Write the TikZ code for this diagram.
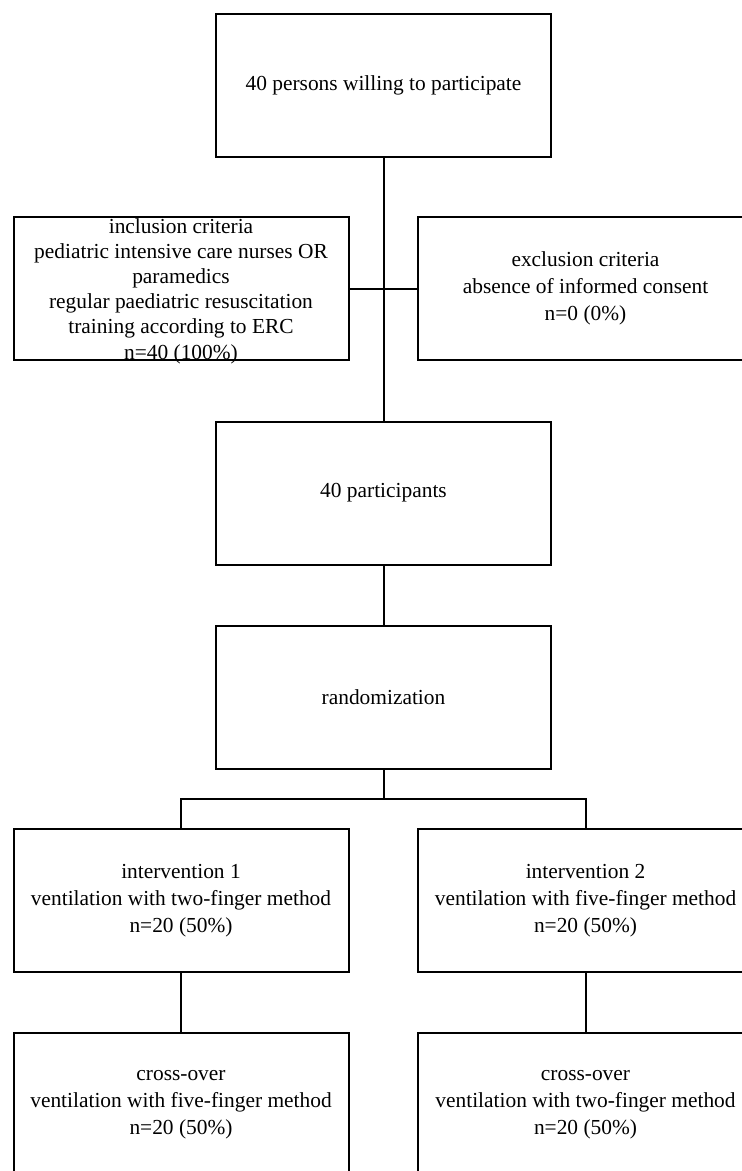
\documentclass[tikz,border=0pt]{standalone}
\usepackage{fontspec}
\setmainfont{Liberation Serif}
\tikzset{
  box/.style={draw, line width=2pt, minimum width=335pt, minimum height=143pt, align=center, inner sep=0pt,
    font=\fontsize{21.4}{27}\selectfont},
  txt/.style={align=center, inner sep=0pt, font=\fontsize{21.4}{25.2}\selectfont},
  conn/.style={line width=2pt}
}
\begin{document}
\begin{tikzpicture}[x=1pt,y=-1pt]
\clip (0,0) rectangle (742,1171);
\useasboundingbox (0,0) rectangle (742,1171);
\fill[white] (0,0) rectangle (742,1171);
\node[box] (top) at (383.5,85) {40 persons willing to participate};
\node[box] (incl) at (181,288.5) {};
\node[txt] (incltext) at (181,291) {inclusion criteria\\pediatric intensive care nurses OR\\paramedics\\regular paediatric resuscitation\\training according to ERC\\n=40 (100\%)};
\node[box] (excl) at (585.5,288.5) {exclusion criteria\\absence of informed consent\\n=0 (0\%)};
\node[box] (part) at (383.5,493) {40 participants};
\node[box] (rand) at (383.5,697) {randomization};
\node[box] (int1) at (181,900.5) {intervention 1\\ventilation with two-finger method\\n=20 (50\%)};
\node[box] (int2) at (585.5,900.5) {intervention 2\\ventilation with five-finger method\\n=20 (50\%)};
\node[box] (co1) at (181,1104.5) {cross-over\\ventilation with five-finger method\\n=20 (50\%)};
\node[box] (co2) at (585.5,1104.5) {cross-over\\ventilation with two-finger method\\n=20 (50\%)};
\coordinate (split) at (383.5,799);
\draw[conn] (top.south) -- (part.north);
\draw[conn] (incl.east) -- (excl.west);
\draw[conn] (part.south) -- (rand.north);
\draw[conn] (rand.south) -- (split);
\draw[conn] (split) -| (int1.north);
\draw[conn] (split) -| (int2.north);
\draw[conn] (int1.south) -- (co1.north);
\draw[conn] (int2.south) -- (co2.north);
\end{tikzpicture}
\end{document}
